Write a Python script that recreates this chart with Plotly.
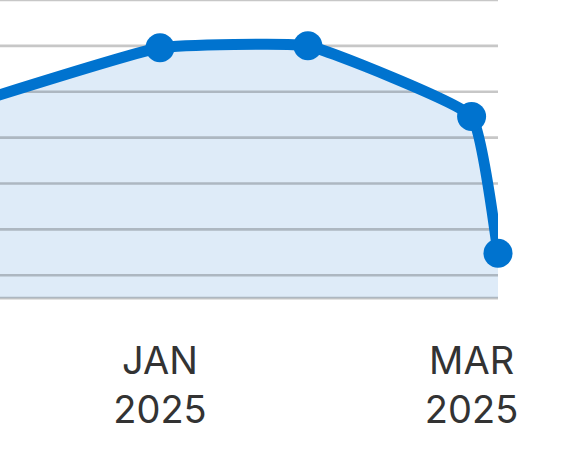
import plotly.graph_objects as go

# ---- data ----
dates = ["2024-12-01", "2025-01-01", "2025-01-29", "2025-03-01", "2025-03-06"]
values = [44.1, 54.6, 55.0, 39.6, 9.8]
tick_dates = ["2025-01-01", "2025-03-01"]
tick_labels = ["JAN<br>2025", "MAR<br>2025"]
grid_values = [0, 5, 15, 25, 35, 45, 55, 65]

x_range = ["2024-12-01 17:00", "2025-03-06"]
y_range = [-0.4, 65]

LINE = "#0073cf"
FILL = "rgb(222,235,248)"
GRID = "rgba(0,0,0,0.22)"
SMOOTH = 0.35

fig = go.Figure()

# area fill
fig.add_trace(go.Scatter(
    x=dates, y=values, mode="lines",
    line=dict(width=0, shape="spline", smoothing=SMOOTH),
    fill="tozeroy", fillcolor=FILL, hoverinfo="skip", showlegend=False,
))

# gridlines drawn above the fill, below the line
gx, gy = [], []
for v in grid_values:
    gx += [x_range[0], x_range[1], None]
    gy += [v, v, None]
fig.add_trace(go.Scatter(
    x=gx, y=gy, mode="lines",
    line=dict(width=2.6, color=GRID),
    hoverinfo="skip", showlegend=False,
))

# line + markers
fig.add_trace(go.Scatter(
    x=dates, y=values, mode="lines+markers",
    line=dict(width=11, color=LINE, shape="spline", smoothing=SMOOTH),
    marker=dict(size=29, color=LINE),
    cliponaxis=False, hoverinfo="skip", showlegend=False,
))

fig.update_layout(
    width=576, height=464,
    margin=dict(l=0, r=78, t=0, b=164),
    paper_bgcolor="white", plot_bgcolor="white",
    font=dict(family="Inter", color="#333333"),
    hovermode=False,
)
fig.update_xaxes(
    type="date", range=x_range,
    tickvals=tick_dates, ticktext=tick_labels,
    tickfont=dict(family="Inter", size=38, color="#333333"),
    ticks="", showgrid=False, zeroline=False, showline=False,
    ticklabelstandoff=35,
)
fig.update_yaxes(
    range=y_range, showgrid=False, zeroline=False, showline=False,
    showticklabels=False, ticks="",
)

fig.write_html(
    "out.html",
    config={"displayModeBar": False},
    post_script="document.body.style.margin='0';",
)
